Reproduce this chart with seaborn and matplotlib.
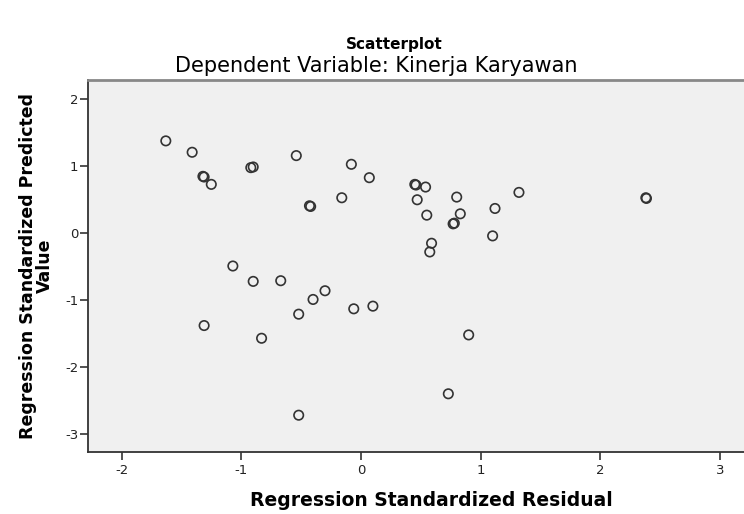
import numpy as np
import pandas as pd
import matplotlib
matplotlib.use('Agg')
import matplotlib.pyplot as plt
import seaborn as sns

# Data (residual vs predicted)
residual = [-1.63, -1.41, -1.32, -1.31, -1.25, -0.92, -0.90, -0.54,
            -0.43, -0.42, -0.16, -0.08, 0.07, 0.45, 0.46, 0.54,
            0.47, 0.55, 0.80, 0.83, 0.77, 0.78, 1.12, 1.10,
            0.59, 0.575, 1.32, 2.38, 2.385,
            -1.07, -0.90, -0.67, -0.30, -0.40, -0.52, -0.06, 0.10,
            -1.31, -0.83, 0.90, 0.73, -0.52]
predicted = [1.38, 1.21, 0.85, 0.84, 0.73, 0.98, 0.99, 1.16,
             0.41, 0.40, 0.53, 1.03, 0.83, 0.73, 0.72, 0.69,
             0.50, 0.27, 0.54, 0.29, 0.14, 0.15, 0.37, -0.04,
             -0.15, -0.28, 0.61, 0.53, 0.52,
             -0.49, -0.72, -0.71, -0.86, -0.99, -1.21, -1.13, -1.09,
             -1.38, -1.57, -1.52, -2.40, -2.72]

df = pd.DataFrame({'Residual': residual, 'Predicted': predicted})

sns.set_style('white')
plt.rcParams['font.family'] = ['DejaVu Sans']
plt.rcParams['axes.unicode_minus'] = False
plt.rcParams['text.color'] = 'black'
plt.rcParams['axes.labelcolor'] = 'black'

fig = plt.figure(figsize=(7.44, 5.14), dpi=100)
ax = fig.add_axes([88 / 744, 62 / 514, 1 - 88 / 744, 372 / 514])
ax.set_facecolor('#F0F0F0')

sns.scatterplot(data=df, x='Residual', y='Predicted', ax=ax,
                marker='o', s=46, facecolor='none', edgecolor='#333333',
                linewidth=1.2)

ax.set_xlim(-2.28, 3.20)
ax.set_ylim(-3.27, 2.29)
ax.set_xticks([-2, -1, 0, 1, 2, 3])
ax.set_yticks([-3, -2, -1, 0, 1, 2])
ax.tick_params(axis='both', bottom=True, left=True, direction='out',
               length=6, width=1.2, color='#333333', labelsize=9.5,
               labelcolor='#222222', pad=1)
ax.tick_params(axis='x', pad=3)

for side in ['left', 'bottom']:
    ax.spines[side].set_color('#333333')
    ax.spines[side].set_linewidth(1.3)
ax.spines['top'].set_color('#888888')
ax.spines['top'].set_linewidth(2)
ax.spines['right'].set_visible(False)

ax.set_xlabel('Regression Standardized Residual', fontsize=13.5,
              fontweight='bold', labelpad=10, x=(431 - 88) / 656)
ax.set_ylabel('Regression Standardized Predicted\nValue', fontsize=12.5,
              fontweight='bold', linespacing=0.9, labelpad=8)

fig.text(394 / 744, 1 - 45 / 514, 'Scatterplot',
         ha='center', va='center', fontsize=11, fontweight='bold')
fig.text(376 / 744, 1 - 66 / 514, 'Dependent Variable: Kinerja Karyawan',
         ha='center', va='center', fontsize=15)

fig.savefig('out.png', dpi=100)
